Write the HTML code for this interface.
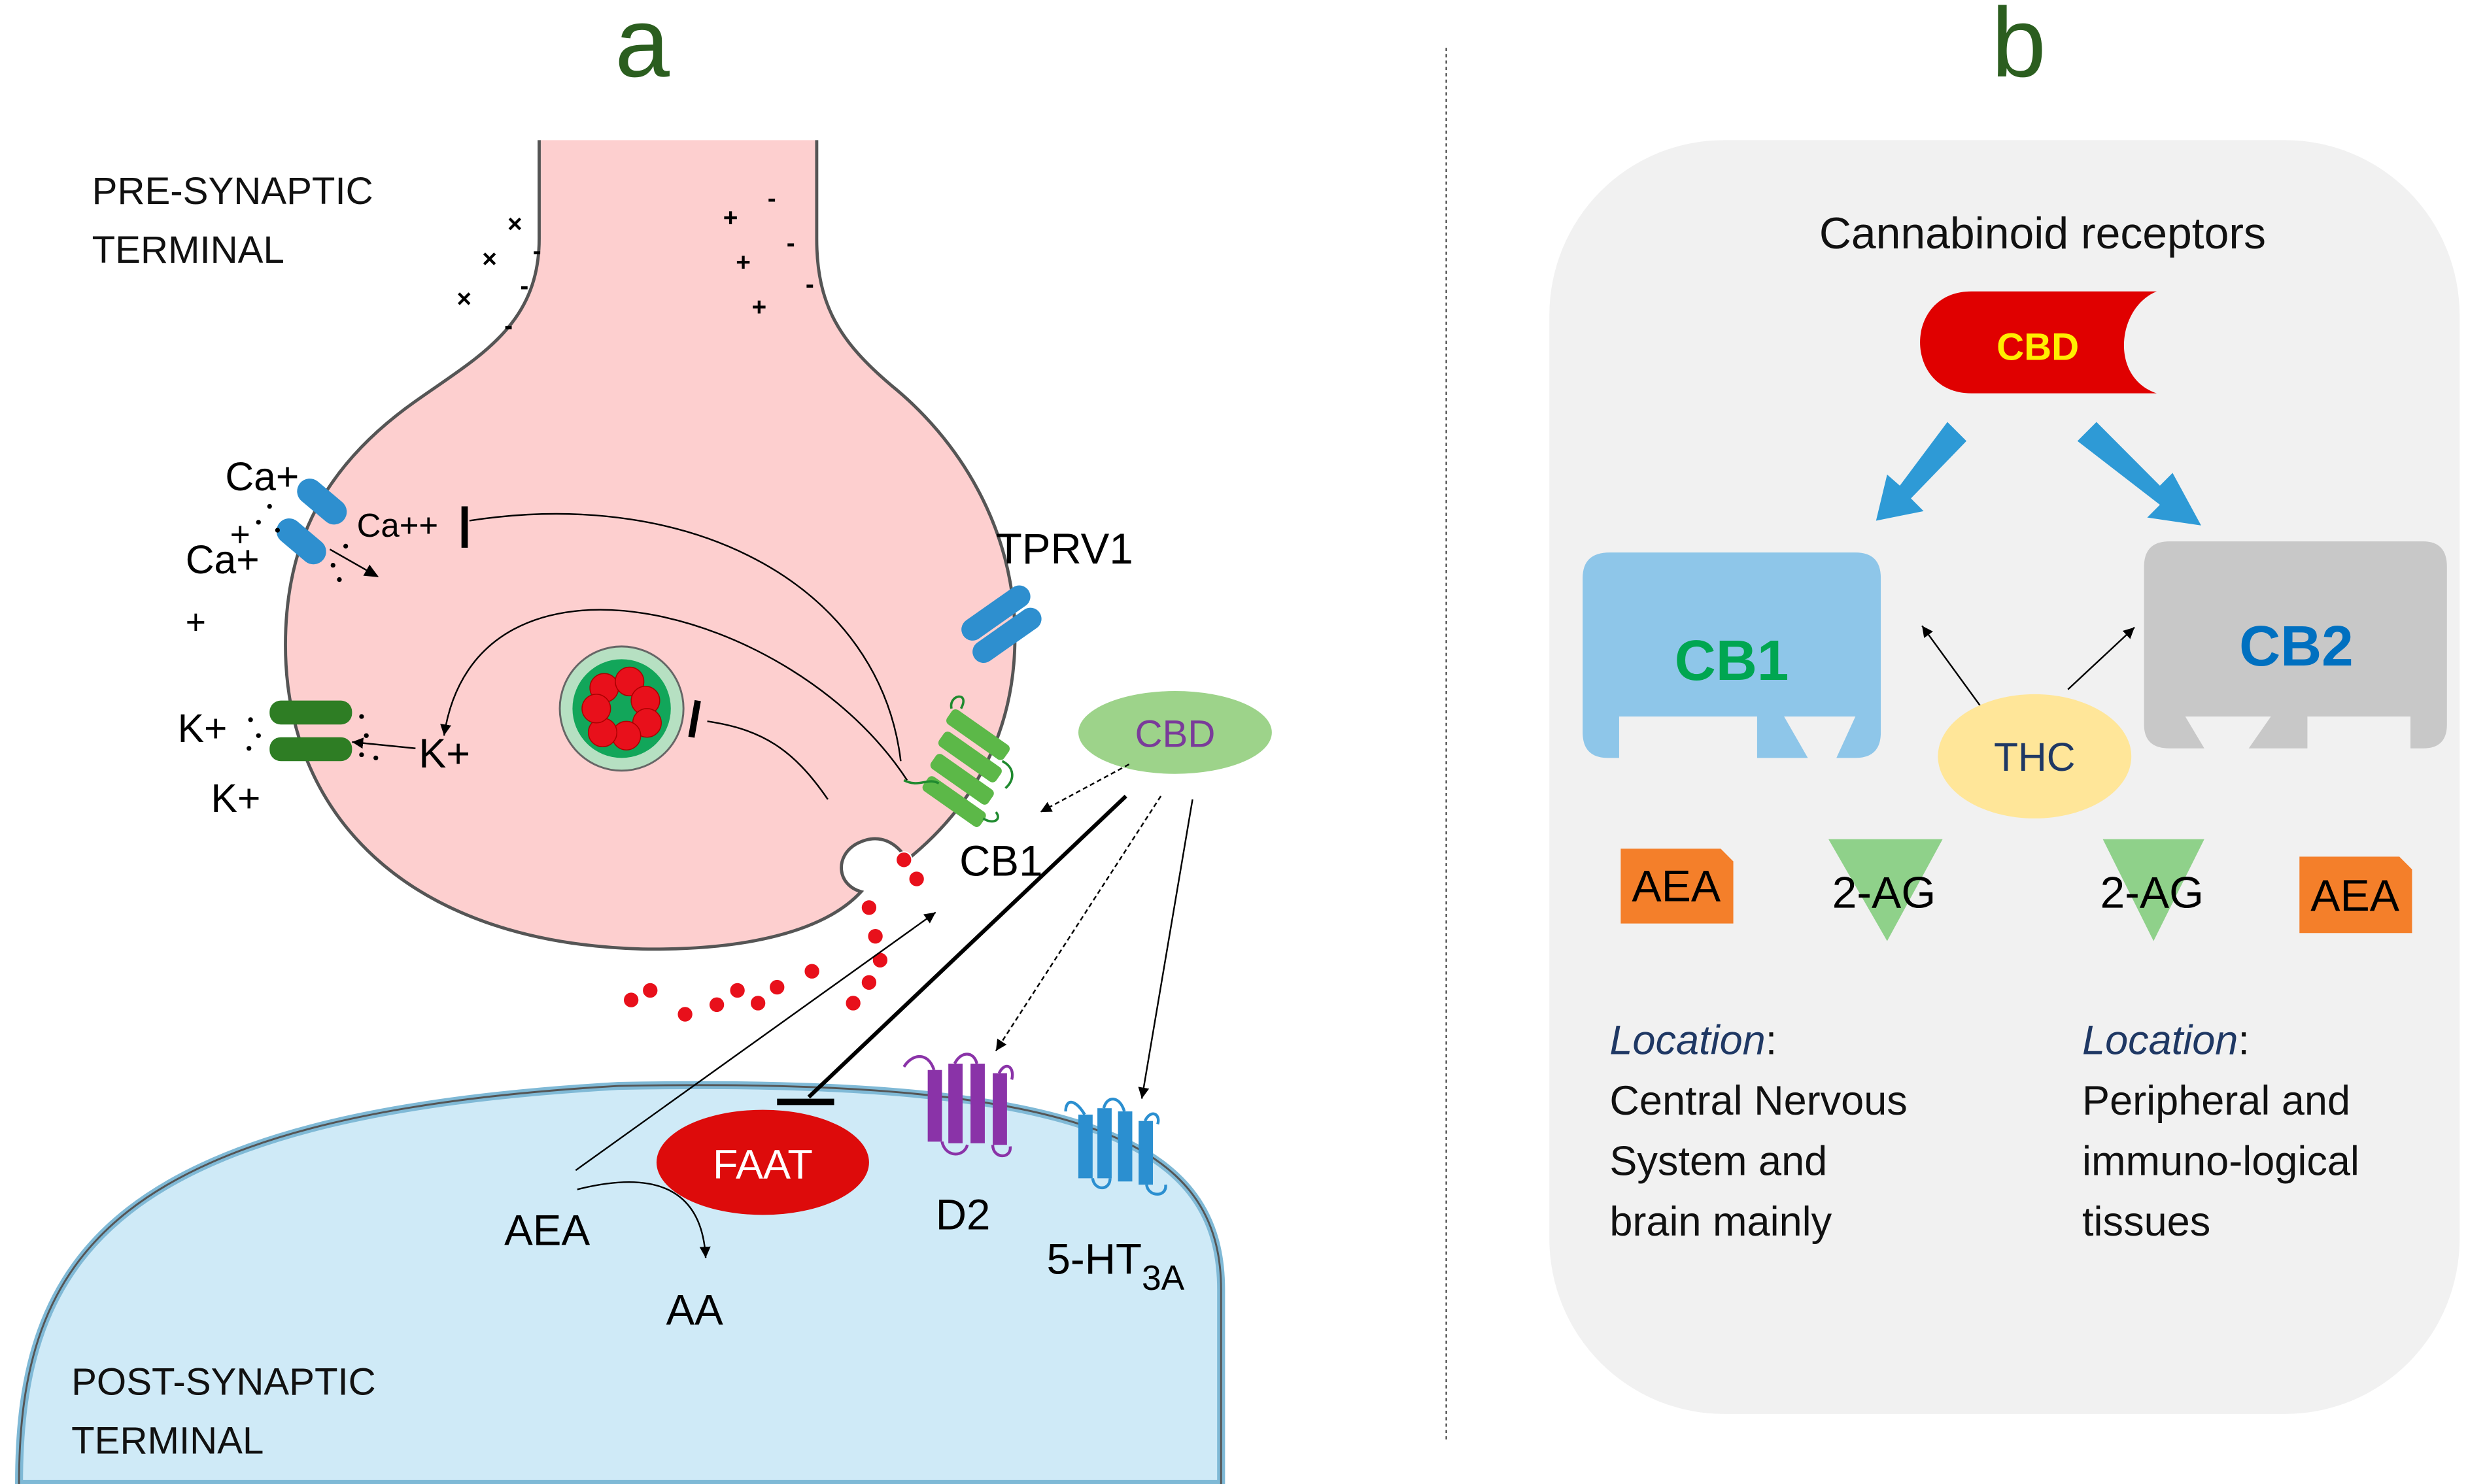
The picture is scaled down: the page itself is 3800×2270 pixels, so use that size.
<!DOCTYPE html>
<html><head><meta charset="utf-8"><style>
html,body{margin:0;padding:0;background:#fff;}
svg{display:block;}
text{font-family:"Liberation Sans",sans-serif;}
</style></head><body>
<svg width="3800" height="2270" viewBox="0 0 1567 932" preserveAspectRatio="none" xmlns="http://www.w3.org/2000/svg">
<defs>
<marker id="ar" markerWidth="10" markerHeight="10" refX="8" refY="5" orient="auto" markerUnits="userSpaceOnUse"><path d="M0,1 L9,5 L0,9 Z" fill="#000"/></marker>
<marker id="ars" markerWidth="8" markerHeight="8" refX="7" refY="4" orient="auto" markerUnits="userSpaceOnUse"><path d="M0,0.5 L7,4 L0,7.5 Z" fill="#000"/></marker>
</defs>
<rect width="1567" height="932" fill="#fff"/>
<text x="405" y="48" font-size="62" fill="#2b5e1f" text-anchor="middle">a</text>
<text x="1273" y="48" font-size="62" fill="#2b5e1f" text-anchor="middle">b</text>
<line x1="912" y1="30" x2="912" y2="905" stroke="#555" stroke-width="1" stroke-dasharray="2,2"/>

<path d="M12,932 C12,790 70,700 390,682 C690,676 770,720 770,810 L770,932 Z" fill="#cfeaf7" stroke="#7fb9d6" stroke-width="5"/>
<path d="M12,932 C12,790 70,700 390,682 C690,676 770,720 770,810 L770,932" fill="none" stroke="#555" stroke-width="1.2"/>

<path d="M340,88 L340,150 C340,205 300,225 262,252 C205,292 180,340 180,405 C180,510 255,592 405,596 C470,597 520,585 543,560 C528,556 526,538 540,530 C555,522 566,530 572,540 C612,508 640,462 640,400 C640,330 603,275 562,242 C530,215 515,192 515,150 L515,88" fill="#fdcfcf" stroke="#555" stroke-width="2"/>

<text x="58" y="128" font-size="24" fill="#111">PRE-SYNAPTIC</text>
<text x="58" y="165" font-size="24" fill="#111">TERMINAL</text>
<text x="45" y="876" font-size="24" fill="#111">POST-SYNAPTIC</text>
<text x="45" y="913" font-size="24" fill="#111">TERMINAL</text>

<g font-size="16" fill="#000" font-weight="bold">
<text x="288" y="193">×</text><text x="304" y="168">×</text><text x="320" y="146">×</text>
<text x="336" y="163">-</text><text x="328" y="185">-</text><text x="318" y="210">-</text>
<text x="456" y="142">+</text><text x="464" y="170">+</text><text x="474" y="198">+</text>
<text x="484" y="130">-</text><text x="496" y="158">-</text><text x="508" y="184">-</text>
</g>

<rect x="185" y="307" width="36" height="16" rx="8" fill="#2e8fcf" transform="rotate(40 203 315)"/>
<rect x="172" y="332" width="36" height="16" rx="8" fill="#2e8fcf" transform="rotate(40 190 340)"/>
<g fill="#000"><circle cx="170" cy="318" r="1.5"/><circle cx="163" cy="328" r="1.5"/><circle cx="175" cy="333" r="1.5"/><circle cx="218" cy="343" r="1.5"/><circle cx="210" cy="355" r="1.5"/><circle cx="214" cy="364" r="1.5"/></g>
<line x1="208" y1="345" x2="238" y2="362" stroke="#000" stroke-width="1" marker-end="url(#ar)"/>
<text x="142" y="308" font-size="25">Ca+</text>
<text x="145" y="343" font-size="22">+</text>
<text x="117" y="360" font-size="25">Ca+</text>
<text x="117" y="398" font-size="22">+</text>
<text x="225" y="337" font-size="21">Ca++</text>
<line x1="293" y1="318" x2="293" y2="344" stroke="#000" stroke-width="4"/>
<path d="M296,327 C440,305 555,370 568,478" fill="none" stroke="#000" stroke-width="1"/>
<path d="M572,490 C500,380 300,330 280,462" fill="none" stroke="#000" stroke-width="1" marker-end="url(#ars)"/>

<rect x="170" y="440" width="52" height="15" rx="7" fill="#2e7d24"/>
<rect x="170" y="463" width="52" height="15" rx="7" fill="#2e7d24"/>
<g fill="#000"><circle cx="158" cy="452" r="1.5"/><circle cx="163" cy="462" r="1.5"/><circle cx="157" cy="470" r="1.5"/><circle cx="228" cy="450" r="1.5"/><circle cx="231" cy="462" r="1.5"/><circle cx="228" cy="474" r="1.5"/><circle cx="237" cy="476" r="1.5"/></g>
<line x1="262" y1="470" x2="222" y2="466" stroke="#000" stroke-width="1" marker-end="url(#ars)"/>
<text x="112" y="466" font-size="25">K+</text>
<text x="133" y="510" font-size="25">K+</text>
<text x="264" y="482" font-size="26">K+</text>

<circle cx="392" cy="445" r="39" fill="#b6e0c2" stroke="#666" stroke-width="1.2"/>
<circle cx="392" cy="445" r="31" fill="#12a65a"/>
<g fill="#e8101b" stroke="#a00" stroke-width="0.6">
<circle cx="381" cy="432" r="9"/><circle cx="397" cy="428" r="9"/><circle cx="407" cy="440" r="9"/><circle cx="408" cy="454" r="9"/><circle cx="395" cy="462" r="9"/><circle cx="380" cy="460" r="9"/><circle cx="376" cy="445" r="9"/>
</g>
<line x1="440" y1="440" x2="436" y2="463" stroke="#000" stroke-width="4"/>
<path d="M522,502 C500,470 480,458 446,453" fill="none" stroke="#000" stroke-width="1"/>

<text x="628" y="354" font-size="27">TPRV1</text>
<rect x="603" y="378" width="50" height="14" rx="7" fill="#2e8fcf" transform="rotate(-35 628 385)"/>
<rect x="610" y="392" width="50" height="14" rx="7" fill="#2e8fcf" transform="rotate(-35 635 399)"/>

<g fill="#5cb848">
<rect x="595" y="456" width="44" height="11" rx="3" transform="rotate(35 617 461)"/>
<rect x="590" y="470" width="44" height="11" rx="3" transform="rotate(35 612 475)"/>
<rect x="585" y="484" width="44" height="11" rx="3" transform="rotate(35 607 489)"/>
<rect x="580" y="498" width="44" height="11" rx="3" transform="rotate(35 602 503)"/>
</g>
<path d="M570,490 C580,495 585,488 592,492 M600,445 C598,436 612,434 606,445 M632,478 C640,482 640,490 634,495 M628,510 C632,515 626,518 620,514" fill="none" stroke="#1f8a2f" stroke-width="1.5"/>
<text x="605" y="550" font-size="27">CB1</text>

<ellipse cx="741" cy="460" rx="61" ry="26" fill="#9dd38a"/>
<text x="741" y="469" font-size="24" fill="#7a3b9a" text-anchor="middle">CBD</text>
<line x1="712" y1="480" x2="656" y2="510" stroke="#000" stroke-width="1" stroke-dasharray="3,2" marker-end="url(#ars)"/>
<line x1="710" y1="500" x2="510" y2="689" stroke="#000" stroke-width="2.5"/>
<line x1="490" y1="692" x2="526" y2="692" stroke="#000" stroke-width="4"/>
<line x1="732" y1="500" x2="628" y2="660" stroke="#000" stroke-width="1" stroke-dasharray="3,2" marker-end="url(#ars)"/>
<line x1="752" y1="502" x2="720" y2="690" stroke="#000" stroke-width="1" marker-end="url(#ars)"/>

<g fill="#e8101b" stroke="#fff" stroke-width="0.8">
<circle cx="570" cy="540" r="5"/><circle cx="578" cy="552" r="5"/><circle cx="548" cy="570" r="5"/><circle cx="552" cy="588" r="5"/><circle cx="555" cy="603" r="5"/><circle cx="548" cy="617" r="5"/><circle cx="538" cy="630" r="5"/><circle cx="512" cy="610" r="5"/><circle cx="490" cy="620" r="5"/><circle cx="478" cy="630" r="5"/><circle cx="465" cy="622" r="5"/><circle cx="452" cy="631" r="5"/><circle cx="432" cy="637" r="5"/><circle cx="410" cy="622" r="5"/><circle cx="398" cy="628" r="5"/>
</g>

<line x1="363" y1="735" x2="590" y2="573" stroke="#000" stroke-width="1" marker-end="url(#ars)"/>
<path d="M364,747 C420,733 443,752 445,790" fill="none" stroke="#000" stroke-width="1" marker-end="url(#ars)"/>
<text x="318" y="782" font-size="27">AEA</text>
<text x="420" y="832" font-size="27">AA</text>

<ellipse cx="481" cy="730" rx="67" ry="33" fill="#dd0b0b"/>
<text x="481" y="740" font-size="26" fill="#fff" text-anchor="middle">FAAT</text>

<g fill="#8a33a8">
<rect x="585" y="672" width="9" height="45"/><rect x="598" y="668" width="9" height="50"/><rect x="612" y="668" width="9" height="50"/><rect x="626" y="674" width="9" height="45"/>
</g>
<path d="M589,672 C585,660 575,662 570,670 M602,668 C606,660 614,660 616,668 M630,674 C634,666 640,670 638,678 M594,717 C596,727 608,727 610,719 M626,719 C626,728 638,728 637,720" fill="none" stroke="#8a33a8" stroke-width="1.8"/>
<text x="590" y="772" font-size="27">D2</text>

<g fill="#2b8fd0">
<rect x="680" y="700" width="9" height="40"/><rect x="692" y="696" width="9" height="44"/><rect x="705" y="698" width="9" height="44"/><rect x="718" y="704" width="9" height="40"/>
</g>
<path d="M684,700 C678,690 672,690 672,698 M696,696 C698,688 706,688 709,698 M722,704 C726,696 732,700 730,706 M723,744 C724,752 736,752 735,744 M689,740 C690,748 700,748 700,740" fill="none" stroke="#2b8fd0" stroke-width="1.8"/>
<text x="660" y="800" font-size="27">5-HT<tspan font-size="22" dy="10">3A</tspan></text>

<rect x="977" y="88" width="574" height="800" rx="110" ry="110" fill="#f1f1f1"/>
<text x="1288" y="156" font-size="28" text-anchor="middle" fill="#111">Cannabinoid receptors</text>
<path d="M1243,183 L1360,183 C1335,193 1330,237 1360,247 L1243,247 C1200,247 1200,183 1243,183 Z" fill="#e00000"/>
<text x="1285" y="226" font-size="24" font-weight="bold" fill="#ffee00" text-anchor="middle">CBD</text>
<path d="M1228,265 L1240,277 L1205,313 L1213,321 L1183,327 L1190,298 L1198,305 Z" fill="#2e9ad6"/>
<path d="M1310,277 L1322,265 L1362,305 L1370,297 L1388,330 L1354,325 L1362,317 Z" fill="#2e9ad6"/>
<path d="M1015,347 L1170,347 Q1186,347 1186,363 L1186,460 Q1186,476 1170,476 L1158,476 L1170,450 L1125,450 L1140,476 L1108,476 L1108,450 L1021,450 L1021,476 L1014,476 Q998,476 998,460 L998,363 Q998,347 1015,347 Z" fill="#8ec6e9"/>
<text x="1092" y="427" font-size="36" font-weight="bold" fill="#00a651" text-anchor="middle">CB1</text>
<path d="M1368,340 L1528,340 Q1543,340 1543,356 L1543,455 Q1543,470 1528,470 L1520,470 L1520,450 L1455,450 L1455,470 L1418,470 L1432,450 L1378,450 L1390,470 L1368,470 Q1352,470 1352,455 L1352,356 Q1352,340 1368,340 Z" fill="#c8c8c8"/>
<text x="1448" y="418" font-size="36" font-weight="bold" fill="#0070c0" text-anchor="middle">CB2</text>
<line x1="1258" y1="456" x2="1212" y2="393" stroke="#000" stroke-width="1" marker-end="url(#ars)"/>
<line x1="1304" y1="433" x2="1346" y2="394" stroke="#000" stroke-width="1" marker-end="url(#ars)"/>
<ellipse cx="1283" cy="475" rx="61" ry="39" fill="#ffe699"/>
<text x="1283" y="484" font-size="25" fill="#1f3864" text-anchor="middle">THC</text>
<path d="M1022,533 L1085,533 L1093,541 L1093,580 L1022,580 Z" fill="#f47f2a"/>
<text x="1057" y="566" font-size="28" text-anchor="middle">AEA</text>
<path d="M1450,538 L1513,538 L1521,546 L1521,586 L1450,586 Z" fill="#f47f2a"/>
<text x="1485" y="572" font-size="28" text-anchor="middle">AEA</text>
<path d="M1153,527 L1225,527 L1190,591 Z" fill="#8fd18a"/>
<path d="M1326,527 L1390,527 L1358,591 Z" fill="#8fd18a"/>
<text x="1188" y="570" font-size="28" text-anchor="middle">2-AG</text>
<text x="1357" y="570" font-size="28" text-anchor="middle">2-AG</text>
<g font-size="26" fill="#111">
<text x="1015" y="662"><tspan font-style="italic" fill="#1f3864">Location</tspan>:</text>
<text x="1015" y="700">Central Nervous</text>
<text x="1015" y="738">System and</text>
<text x="1015" y="776">brain mainly</text>
<text x="1313" y="662"><tspan font-style="italic" fill="#1f3864">Location</tspan>:</text>
<text x="1313" y="700">Peripheral and</text>
<text x="1313" y="738">immuno-logical</text>
<text x="1313" y="776">tissues</text>
</g>
</svg>
</body></html>
